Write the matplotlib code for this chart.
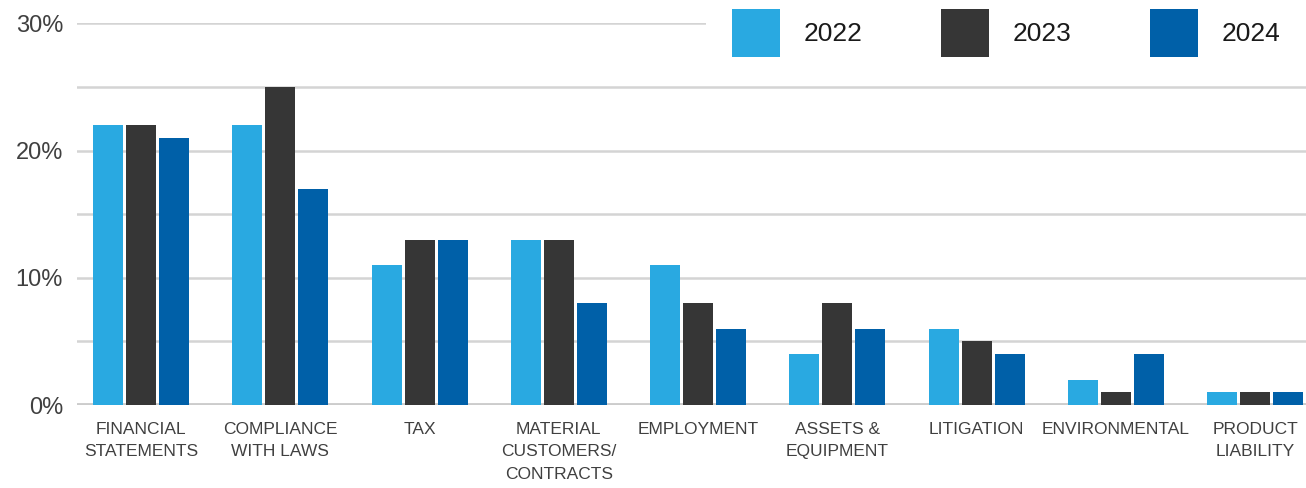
import numpy as np
import matplotlib.pyplot as plt
from matplotlib.ticker import FuncFormatter, MultipleLocator

plt.rcParams['font.family'] = ['Liberation Sans', 'DejaVu Sans']

categories = ['FINANCIAL\nSTATEMENTS', 'COMPLIANCE\nWITH LAWS', 'TAX',
	'MATERIAL\nCUSTOMERS/\nCONTRACTS', 'EMPLOYMENT', 'ASSETS &\nEQUIPMENT',
	'LITIGATION', 'ENVIRONMENTAL', 'PRODUCT\nLIABILITY']
years = ['2022', '2023', '2024']
values_2022 = [22, 22, 11, 13, 11, 4, 6, 2, 1]
values_2023 = [22, 25, 13, 13, 8, 8, 5, 1, 1]
values_2024 = [21, 17, 13, 8, 6, 6, 4, 4, 1]
colors = ['#29a9e1', '#363636', '#0060a8']

fig = plt.figure(figsize=(13.06, 4.88), dpi=100)
ax = fig.add_axes([77 / 1306, 83 / 488, 1229 / 1306, 381.6 / 488])

x = np.arange(len(categories))
width = 0.2154
step = 0.237
series = [values_2022, values_2023, values_2024]
handles = []
for i in range(len(series)):
	b = ax.bar(x + (i - 1) * step, series[i], width, color=colors[i], label=years[i], zorder=3)
	handles.append(b)

ax.set_xlim(-0.46, 8.366)
ax.set_ylim(0, 30)
ax.yaxis.set_major_locator(MultipleLocator(10))
ax.yaxis.set_minor_locator(MultipleLocator(5))
ax.yaxis.set_major_formatter(FuncFormatter(lambda v, p: '%d%%' % v))
ax.grid(True, axis='y', which='both', color='#d4d4d4', linewidth=1.8, zorder=0)
ax.axhline(0, color='#cccccc', linewidth=3.5, zorder=2)
for s in ax.spines.values():
	s.set_visible(False)

ax.tick_params(axis='x', length=0, pad=12)
ax.tick_params(axis='y', which='both', length=0, pad=10, labelsize=17, labelcolor='#404040')
ax.set_xticks(x)
ax.set_xticklabels(categories, fontsize=12.5, color='#404040')
for lab in ax.get_xticklabels():
	lab.set_linespacing(1.62)

# legend sits in a white box over the top gridline
leg = fig.legend(handles=handles, labels=years, loc='upper left',
	bbox_to_anchor=(706 / 1306, 1 + 17 / 488), ncol=3, frameon=True, fancybox=False,
	facecolor='white', edgecolor='none', framealpha=1,
	prop={'size': 19}, labelcolor='#1a1a1a',
	handlelength=1.82, handleheight=2.42, handletextpad=0.87, columnspacing=3.0,
	borderpad=1.0, borderaxespad=0)

fig.savefig('out.png', dpi=100)
